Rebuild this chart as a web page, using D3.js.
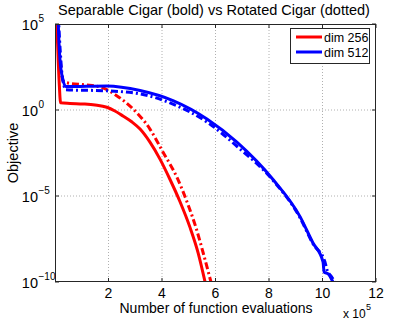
<!DOCTYPE html>
<html>
<head>
<meta charset="utf-8">
<script src="https://cdn.jsdelivr.net/npm/d3@7"></script>
<style>
  body { margin:0; background:#fff; }
  svg { display:block; font-family:"Liberation Sans", Arial, sans-serif; }
  .grid line { stroke:#b0b0b0; stroke-dasharray:1,2; stroke-width:1; }
</style>
</head>
<body>
<div id="chart"></div>
<script>
// evaluations are in units of 1e5
const sep256X = [0.03, 0.07, 0.15, 0.21, 0.56, 1.05, 1.50, 1.94, 2.24, 2.54, 2.88, 3.18, 3.55, 3.93, 4.30, 4.67, 5.05, 5.35, 5.61];
const sep256Y = [3e5, 5.5e4, 65, 2.6, 2.4, 2.24, 1.96, 1.44, 0.87, 0.45, 0.2, 0.078, 0.0135, 1.35e-3, 9.1e-5, 4.8e-6, 1.45e-7, 5e-9, 1e-10];
const rot256X = [0.04, 0.07, 0.19, 0.30, 0.45, 1.12, 1.68, 2.32, 2.92, 3.55, 4.04, 4.56, 4.93, 5.27, 5.57, 5.83];
const rot256Y = [3e5, 2e5, 950, 50, 38, 29, 22, 6.6, 1.14, 0.078, 3.5e-3, 1.2e-4, 4.8e-6, 1.45e-7, 3.3e-9, 1e-10];
const sep512X = [0.08, 0.11, 0.15, 0.22, 0.41, 1.94, 3.18, 4.41, 5.68, 6.80, 8.15, 9.16, 9.64, 10.02, 10.06, 10.21, 10.39];
const sep512Y = [3e5, 2.1e5, 7200, 250, 23, 25, 13.5, 3.5, 0.3, 0.0135, 9.1e-5, 6.3e-7, 1.9e-8, 1.5e-9, 3.8e-10, 3e-10, 1e-10];
const rot512X = [0.09, 0.12, 0.19, 0.26, 0.41, 1.94, 3.18, 4.41, 5.68, 6.80, 8.15, 9.16, 9.64, 10.09, 10.17, 10.32, 10.47];
const rot512Y = [3e5, 2.1e5, 3700, 130, 15, 13, 8.7, 2.2, 0.2, 7.8e-3, 8.1e-5, 5.5e-7, 1.7e-8, 1.5e-9, 5e-10, 2.2e-10, 1e-10];

const xTicks = [2, 4, 6, 8, 10, 12];
const yTickExps = [5, 0, -5, -10];
const legendLabels = ["dim 256", "dim 512"];

const totalW = 415, totalH = 321;
const L = 55, R = 376, T = 24, B = 282;

const svg = d3.select("#chart").append("svg").attr("width", totalW).attr("height", totalH);

const x = d3.scaleLinear().domain([0, 12]).range([L, R]);
const y = d3.scaleLog().domain([1e-10, 1e5]).range([B, T]);

// gridlines
const grid = svg.append("g").attr("class", "grid");
grid.selectAll(".vx").data(xTicks.filter(d => d < 12)).enter().append("line")
    .attr("x1", d => x(d)).attr("x2", d => x(d)).attr("y1", T).attr("y2", B);
grid.selectAll(".hy").data(yTickExps.filter(e => e < 5 && e > -10)).enter().append("line")
    .attr("x1", L).attr("x2", R).attr("y1", e => y(Math.pow(10, e))).attr("y2", e => y(Math.pow(10, e)));

svg.append("clipPath").attr("id", "clip").append("rect")
    .attr("x", L).attr("y", T).attr("width", R - L).attr("height", B - T);

const series = [
    { xs: sep256X, ys: sep256Y, color: "#ff0000", dash: null },
    { xs: rot256X, ys: rot256Y, color: "#ff0000", dash: "7,3,2,3" },
    { xs: sep512X, ys: sep512Y, color: "#0000ff", dash: null },
    { xs: rot512X, ys: rot512Y, color: "#0000ff", dash: "7,3,2,3" },
];

const line = d3.line().x(d => x(d[0])).y(d => y(d[1])).curve(d3.curveMonotoneX);
const plot = svg.append("g").attr("clip-path", "url(#clip)");
series.forEach(s => {
    const pts = s.xs.map((v, i) => [v, s.ys[i]]);
    plot.append("path").datum(pts).attr("d", line)
        .attr("fill", "none").attr("stroke", s.color).attr("stroke-width", 3)
        .attr("stroke-linejoin", "round")
        .attr("stroke-dasharray", s.dash);
});

// axes box and ticks
const ax = svg.append("g").attr("stroke", "#262626").attr("stroke-width", 1);
ax.append("rect").attr("x", L + 0.5).attr("y", T + 0.5).attr("width", R - L - 1).attr("height", B - T - 1).attr("fill", "none");
xTicks.forEach(d => {
    ax.append("line").attr("x1", x(d)).attr("x2", x(d)).attr("y1", B).attr("y2", B - 4);
    ax.append("line").attr("x1", x(d)).attr("x2", x(d)).attr("y1", T).attr("y2", T + 4);
});
yTickExps.forEach(e => {
    const yy = y(Math.pow(10, e));
    ax.append("line").attr("x1", L).attr("x2", L + 4).attr("y1", yy).attr("y2", yy);
    ax.append("line").attr("x1", R).attr("x2", R - 4).attr("y1", yy).attr("y2", yy);
});

// tick labels
svg.append("g").selectAll("text").data(xTicks).enter().append("text")
    .attr("x", d => x(d)).attr("y", 298).attr("text-anchor", "middle")
    .attr("font-size", 14).attr("fill", "#000").text(d => d);

yTickExps.forEach(e => {
    const yy = y(Math.pow(10, e));
    svg.append("text").attr("x", 38).attr("y", yy + 6).attr("text-anchor", "end")
        .attr("font-size", 14.5).text("10");
    svg.append("text").attr("x", 38.5).attr("y", yy - 2).attr("font-size", 10)
        .text(e < 0 ? "\u2212" + Math.abs(e) : e);
});

// titles
svg.append("text").attr("x", 214).attr("y", 15).attr("text-anchor", "middle")
    .attr("font-size", 14.5).text("Separable Cigar (bold) vs Rotated Cigar (dotted)");
svg.append("text").attr("x", 216).attr("y", 313).attr("text-anchor", "middle")
    .attr("font-size", 14).text("Number of function evaluations");
svg.append("text").attr("transform", "rotate(-90)").attr("x", -(T + B) / 2).attr("y", 18)
    .attr("text-anchor", "middle").attr("font-size", 14.5).text("Objective");
svg.append("text").attr("x", 343).attr("y", 318).attr("font-size", 12).text("x 10");
svg.append("text").attr("x", 366).attr("y", 310).attr("font-size", 9).text("5");

// legend
const lg = svg.append("g");
lg.append("rect").attr("x", 290.5).attr("y", 28.5).attr("width", 79).attr("height", 35)
    .attr("fill", "#fff").attr("stroke", "#262626");
["#ff0000", "#0000ff"].forEach((c, i) => {
    const yy = 37 + i * 15;
    lg.append("line").attr("x1", 296).attr("x2", 322).attr("y1", yy).attr("y2", yy)
        .attr("stroke", c).attr("stroke-width", 3);
    lg.append("text").attr("x", 324).attr("y", yy + 4.5).attr("font-size", 12.5).text(legendLabels[i]);
});
</script>
</body>
</html>
